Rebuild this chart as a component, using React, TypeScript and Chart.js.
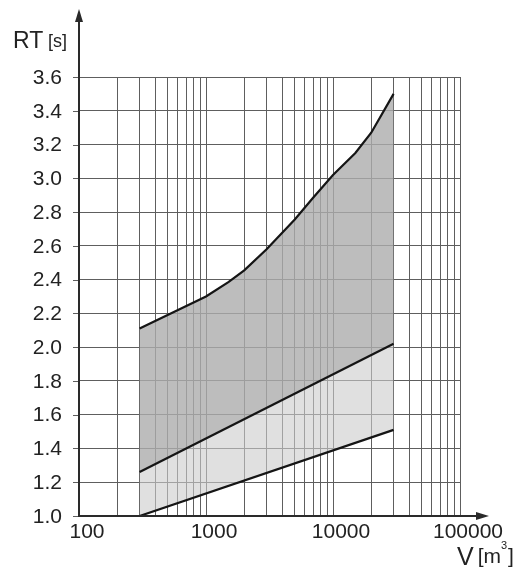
import React, { useEffect, useRef } from 'react';
import { Chart, registerables } from 'chart.js';

Chart.register(...registerables);

// Upper limit curve (dark band top)
const upperV = [300, 1000, 1500, 2000, 3000, 5000, 7000, 10000, 15000, 20000, 30000];
const upperRT = [2.11, 2.3, 2.385, 2.455, 2.58, 2.756, 2.886, 3.02, 3.15, 3.27, 3.5];
// Middle line (boundary between bands)
const middleV = [300, 30000];
const middleRT = [1.26, 2.02];
// Lower limit line
const lowerV = [300, 30000];
const lowerRT = [1.0, 1.51];

// Axis ticks
const xGrid = [
  100, 200, 300, 400, 500, 600, 700, 800, 900,
  1000, 2000, 3000, 4000, 5000, 6000, 7000, 8000, 9000,
  10000, 20000, 30000, 40000, 50000, 60000, 70000, 80000, 90000,
  100000,
];
const xLabels = ['100', '1000', '10000', '100000'];
const xLabelValues = [100, 1000, 10000, 100000];
const yTicks = [1.0, 1.2, 1.4, 1.6, 1.8, 2.0, 2.2, 2.4, 2.6, 2.8, 3.0, 3.2, 3.4, 3.6];

const FONT = '"Liberation Sans", Arial, sans-serif';
const GRID = '#5e5e5e';
const LINE_W = 2.2;

const decoPlugin = {
  id: 'deco',
  afterDraw(chart: any) {
    const { ctx, chartArea: a, scales } = chart;
    const x = scales.x;
    const y = scales.y;
    ctx.save();
    // y tick marks
    ctx.strokeStyle = GRID;
    ctx.lineWidth = 1;
    yTicks.forEach((v) => {
      const py = Math.round(y.getPixelForValue(v)) + 0.5;
      ctx.beginPath();
      ctx.moveTo(a.left - 6, py);
      ctx.lineTo(a.left, py);
      ctx.stroke();
    });
    // axes
    ctx.strokeStyle = '#2a2a2a';
    ctx.lineWidth = 2;
    ctx.beginPath();
    ctx.moveTo(a.left, a.bottom + 1);
    ctx.lineTo(a.left, 18);
    ctx.stroke();
    ctx.beginPath();
    ctx.moveTo(a.left - 1, a.bottom);
    ctx.lineTo(480, a.bottom);
    ctx.stroke();
    // arrows
    ctx.fillStyle = '#2a2a2a';
    ctx.beginPath();
    ctx.moveTo(a.left, 9);
    ctx.lineTo(a.left - 4, 22);
    ctx.lineTo(a.left + 4, 22);
    ctx.closePath();
    ctx.fill();
    ctx.beginPath();
    ctx.moveTo(489, a.bottom);
    ctx.lineTo(476, a.bottom - 4);
    ctx.lineTo(476, a.bottom + 4);
    ctx.closePath();
    ctx.fill();

    // y labels
    ctx.fillStyle = '#222';
    ctx.font = `21px ${FONT}`;
    ctx.textAlign = 'right';
    ctx.textBaseline = 'middle';
    yTicks.forEach((v) => {
      ctx.fillText(v.toFixed(1), 62, y.getPixelForValue(v) + 1);
    });
    // x labels
    ctx.textAlign = 'center';
    ctx.textBaseline = 'top';
    xLabelValues.forEach((v, i) => {
      ctx.fillText(xLabels[i], x.getPixelForValue(v) + 8, a.bottom + 6);
    });

    // y title
    ctx.textAlign = 'left';
    ctx.textBaseline = 'alphabetic';
    ctx.font = `23px ${FONT}`;
    ctx.fillText('RT', 13, 48);
    ctx.font = `18px ${FONT}`;
    ctx.fillText('[s]', 48, 47);

    // x title
    let px = 457;
    ctx.font = `25px ${FONT}`;
    ctx.fillText('V', px, 565);
    px += ctx.measureText('V').width + 4;
    ctx.font = `21px ${FONT}`;
    ctx.fillText('[m', px, 563);
    px += ctx.measureText('[m').width;
    ctx.font = `11px ${FONT}`;
    ctx.fillText('3', px, 549);
    px += ctx.measureText('3').width + 1;
    ctx.font = `21px ${FONT}`;
    ctx.fillText(']', px, 563);
    ctx.restore();
  },
};

export default function App() {
  const ref = useRef<HTMLCanvasElement>(null);
  useEffect(() => {
    if (!ref.current) return;
    const chart = new Chart(ref.current, {
      type: 'line',
      data: {
        datasets: [
          {
            data: upperV.map((v, i) => ({ x: v, y: upperRT[i] })),
            borderColor: '#151515',
            borderWidth: LINE_W,
            pointRadius: 0,
            tension: 0,
            fill: '+1',
            backgroundColor: 'rgba(172,172,172,0.8)',
          },
          {
            data: middleV.map((v, i) => ({ x: v, y: middleRT[i] })),
            borderColor: '#151515',
            borderWidth: LINE_W,
            pointRadius: 0,
            tension: 0,
            fill: '+1',
            backgroundColor: 'rgba(204,204,204,0.61)',
          },
          {
            data: lowerV.map((v, i) => ({ x: v, y: lowerRT[i] })),
            borderColor: '#151515',
            borderWidth: LINE_W,
            pointRadius: 0,
            tension: 0,
            fill: false,
          },
        ],
      },
      options: {
        responsive: false,
        animation: false,
        devicePixelRatio: 1,
        layout: { padding: { left: 79, right: 63, top: 77, bottom: 53 } },
        plugins: {
          legend: { display: false },
          tooltip: { enabled: false },
          filler: { drawTime: 'beforeDatasetsDraw' },
        },
        scales: {
          x: {
            type: 'logarithmic',
            min: 100,
            max: 100000,
            afterBuildTicks: (s: any) => {
              s.ticks = xGrid.map((v) => ({ value: v }));
            },
            afterFit: (s: any) => {
              s.height = 0;
            },
            ticks: { display: false },
            grid: { color: GRID, lineWidth: 1, drawTicks: false },
            border: { display: false },
          },
          y: {
            type: 'linear',
            min: 1.0,
            max: 3.6,
            afterBuildTicks: (s: any) => {
              s.ticks = yTicks.map((v) => ({ value: v }));
            },
            afterFit: (s: any) => {
              s.width = 0;
            },
            ticks: { display: false },
            grid: { color: GRID, lineWidth: 1, drawTicks: false },
            border: { display: false },
          },
        },
      },
      plugins: [decoPlugin],
    });
    return () => chart.destroy();
  }, []);
  return (
    <div style={{ position: 'absolute', left: 0, top: 0, width: 523, height: 569 }}>
      <canvas ref={ref} width={523} height={569} />
    </div>
  );
}
